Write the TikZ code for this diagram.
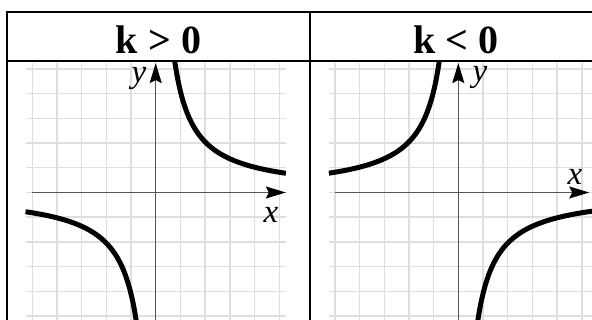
\documentclass[tikz,border=0pt]{standalone}
\usepackage{fontspec}
\setmainfont{Liberation Serif}
\usetikzlibrary{arrows.meta}
\definecolor{gridgray}{HTML}{DEDEDE}
\definecolor{axisgray}{HTML}{555555}
\begin{document}
\begin{tikzpicture}[x=1pt,y=-1pt,
 gridline/.style={draw=gridgray,line width=1.4pt},
 axisline/.style={draw=axisgray,line width=1.5pt},
 axisarrow/.style={axisline,-{Stealth[length=20pt,width=12pt,inset=3pt,color=black]}},
 curve/.style={line width=5pt},
 frame/.style={line width=2pt},
 head/.style={font=\fontsize{40}{40}\selectfont\bfseries, anchor=base, inner sep=0pt, text depth=0pt},
 lbl/.style={font=\fontsize{33}{33}\selectfont\itshape, anchor=base, inner sep=0pt}]
\useasboundingbox (0,0) rectangle (592,320);
\clip (0,0) rectangle (592,320);
% left panel
\begin{scope}[shift={(155.7pt,-192.5pt)}, x=24.7pt, y=24.7pt]
 \foreach \i in {-5,...,5} \draw[gridline] (\i,5.24) -- (\i,-6);
 \foreach \j in {-5,...,5} \draw[gridline] (-5.27,\j) -- (5.27,\j);
 \coordinate (Lxs) at (-5,0); \coordinate (Lxe) at (5.27,0);
 \coordinate (Lys) at (0,-6); \coordinate (Lye) at (0,5.24);
 \draw[axisarrow] (Lxs) -- (Lxe);
 \draw[axisarrow] (Lys) -- (Lye);
 \draw[curve] plot[domain=0.774:5.27,samples=120,smooth] (\x,{4.1/\x});
 \draw[curve] plot[domain=-5.27:-0.7,samples=120,smooth] (\x,{4.1/\x});
\end{scope}
% right panel
\begin{scope}[shift={(458.3pt,-192.5pt)}, x=24.7pt, y=24.7pt]
 \foreach \i in {-5,...,5} \draw[gridline] (\i,5.24) -- (\i,-6);
 \foreach \j in {-5,...,5} \draw[gridline] (-5.24,\j) -- (5.6,\j);
 \coordinate (Rxs) at (-5,0); \coordinate (Rxe) at (5.3,0);
 \coordinate (Rys) at (0,-6); \coordinate (Rye) at (0,5.24);
 \draw[axisarrow] (Rxs) -- (Rxe);
 \draw[axisarrow] (Rys) -- (Rye);
 \draw[curve] plot[domain=-5.24:-0.774,samples=120,smooth] (\x,{-4.1/\x});
 \draw[curve] plot[domain=0.7:5.6,samples=120,smooth] (\x,{-4.1/\x});
\end{scope}
% table frame
\draw[frame] (7,330) -- (7,12) -- (610,12);
\draw[frame] (7,61) -- (610,61);
\draw[frame] (310,12) -- (310,330);
% headers
\node[head] (hL) at (158.5,53.3) {k > 0};
\node[head] (hR) at (456,53.3) {k < 0};
% axis labels
\node[lbl] (yL) at (139,83) {y};
\node[lbl] (yR) at (480,82) {y};
\node[lbl] (xL) at (271,223) {x};
\node[lbl] (xR) at (575,185) {x};
\end{tikzpicture}
\end{document}
